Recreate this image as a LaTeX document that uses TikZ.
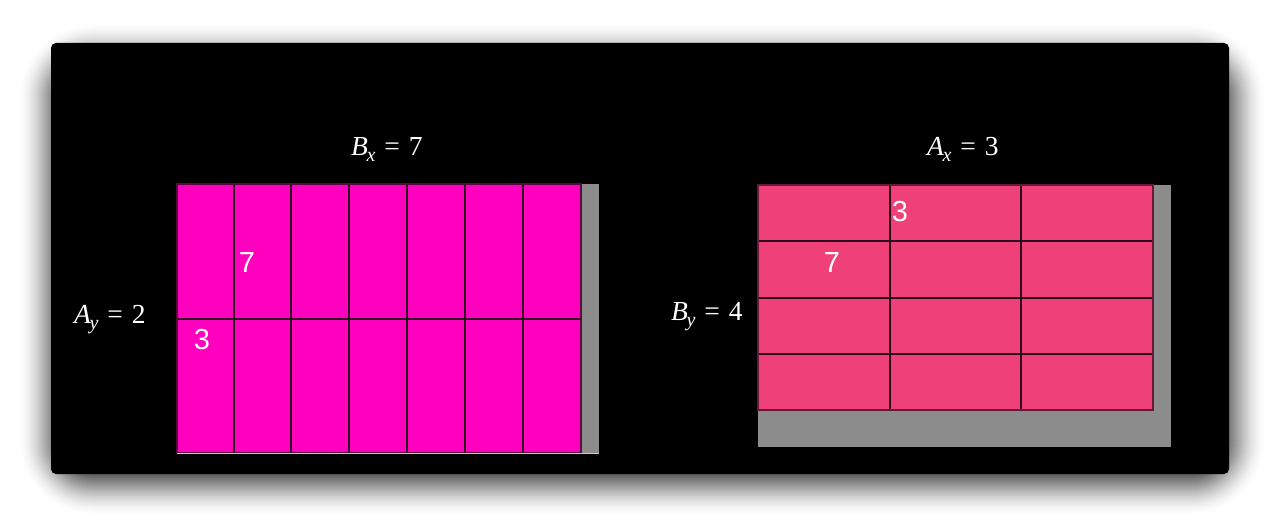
\documentclass[tikz,border=0pt]{standalone}
\usepackage{fontspec}
\setmainfont{Liberation Serif}
\newfontfamily\numsans{Liberation Sans}
\definecolor{magA}{HTML}{FF00BF}
\definecolor{pinkB}{HTML}{F04078}
\definecolor{grayC}{HTML}{8C8C8C}
\definecolor{lineC}{HTML}{2A0A1E}
\newcommand{\lbl}[3]{\textit{#1}\kern-1.5pt\lower6pt\hbox{\fontsize{20}{20}\selectfont\textit{#2}}\kern9pt=\kern9pt#3}
\tikzset{
  eqlabel/.style={text=white,inner sep=0pt,anchor=base west,font=\fontsize{27.5}{30}\selectfont},
  cellnum/.style={text=white,inner sep=0pt,font=\numsans\fontsize{29}{30}\selectfont},
  gridline/.style={draw=lineC,line width=1.4pt},
  graybar/.style={fill=grayC,draw=none}
}
\begin{document}
\begin{tikzpicture}[x=1pt,y=-1pt]
\useasboundingbox (0,0) rectangle (1280,532);
\fill[white] (0,0) rectangle (1280,532);
% soft shadow, opaque graded layers from outside in
\foreach \s in {36,35,...,-36} {
  \pgfmathsetmacro\t{(36-\s)/72}
  \pgfmathsetmacro\p{100*(3*\t*\t-2*\t*\t*\t)}
  \fill[black!\p,rounded corners={(\s+40)*1pt}] ({53-\s},{58-\s}) rectangle ({1231+\s},{481+\s});
}
% panel
\fill[black,rounded corners=5pt] (51,43) rectangle (1229,474);
% left grid
\fill[graybar] (581,184) rectangle (599,453);
\fill[magA] (177,184) rectangle (581,453);
\foreach \xx in {234,291,349,407,465,523} {\draw[gridline] (\xx,184) -- (\xx,453);}
\draw[gridline] (177,319) -- (581,319);
\draw[gridline,draw=lineC!80!magA] (177,184) rectangle (581,453);
\draw[draw={rgb,255:red,200;green,200;blue,200},line width=1.6pt] (177,453.5) -- (599,453.5);
% right grid
\fill[graybar] (758,185) rectangle (1171,447);
\fill[pinkB] (758,185) rectangle (1153,410);
\foreach \xx in {890,1021} {\draw[gridline] (\xx,185) -- (\xx,410);}
\foreach \yy in {241,298,354} {\draw[gridline] (758,\yy) -- (1153,\yy);}
\draw[gridline,draw=lineC!70!pinkB] (758,185) rectangle (1153,410);
% labels
\node[eqlabel] (bx) at (351,156) {\lbl{B}{x}{7}};
\node[eqlabel] (ay) at (74,323) {\lbl{A}{y}{2}};
\node[eqlabel] (ax) at (927,156) {\lbl{A}{x}{3}};
\node[eqlabel] (by) at (671,320) {\lbl{B}{y}{4}};
% cell numbers
\node[cellnum] (l7) at (247,263) {7};
\node[cellnum] (l3) at (202,340) {3};
\node[cellnum] (r3) at (900,212) {3};
\node[cellnum] (r7) at (832,263) {7};
\end{tikzpicture}
\end{document}
